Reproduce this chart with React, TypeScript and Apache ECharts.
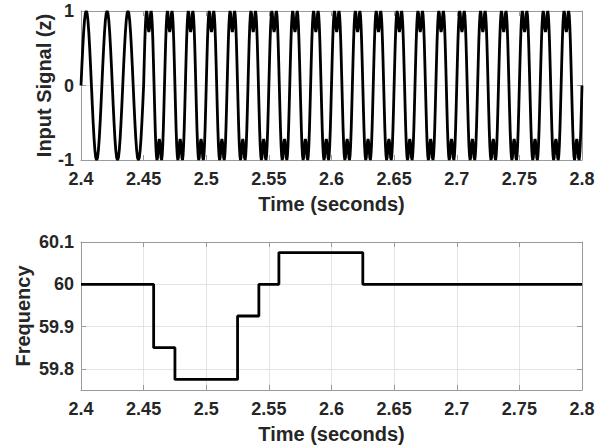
import React, { useEffect, useRef } from "react";
import * as echarts from "echarts";

// ---- data ----
const SIGNAL_FREQ_HZ = 60;
// one half-cycle of the clean sine (samples every 15 degrees)
const SINE_HALF = [0, 0.26, 0.5, 0.71, 0.87, 0.97, 1, 0.97, 0.87, 0.71, 0.5, 0.26];
// one half-cycle of the distorted wave (samples every 10 degrees), "M" shaped crest
const DISTORTED_HALF = [0, 0.3, 0.58, 0.8, 0.94, 1.0, 0.97, 0.86, 0.76, 0.72, 0.76, 0.86, 0.97, 1.0, 0.94, 0.8, 0.58, 0.3];
const SEGMENT_STARTS = [2.4, 2.45];
const SEGMENT_CYCLES = [3, 21];
const SEGMENT_SHAPES = [SINE_HALF, DISTORTED_HALF];
const SIGNAL_END = 2.8;

const FREQ_TIMES = [2.4, 2.458, 2.475, 2.525, 2.542, 2.558, 2.625, 2.8];
const FREQ_VALUES = [60, 59.85, 59.775, 59.925, 60.0, 60.075, 60.0, 60.0];

const X_MIN = 2.4;
const X_MAX = 2.8;
const X_INTERVAL = 0.05;
const TOP_Y_TICKS = [-1, 0, 1];
const FREQ_Y_TICKS = [59.8, 59.9, 60, 60.1];
const FREQ_Y_MIN = 59.75;
const FREQ_Y_MAX = 60.1;

function buildSignal(): number[][] {
  const pts: number[][] = [];
  const period = 1 / SIGNAL_FREQ_HZ;
  SEGMENT_STARTS.forEach((start, s) => {
    const half = SEGMENT_SHAPES[s];
    const cycle = half.concat(half.map((v) => -v));
    const n = cycle.length;
    for (let c = 0; c < SEGMENT_CYCLES[s]; c++) {
      for (let k = 0; k < n; k++) {
        pts.push([start + (c + k / n) * period, cycle[k]]);
      }
    }
  });
  pts.push([SIGNAL_END, 0]);
  return pts;
}

const FONT = "Liberation Sans, Arial, sans-serif";
const TXT = "#262626";
const BORDER = "#9a9a9a";
const GRIDC = "#e3e3e3";

export default function App() {
  const ref = useRef<HTMLDivElement>(null);
  useEffect(() => {
    document.body.style.margin = "0";
    if (!ref.current) return;
    const chart = echarts.init(ref.current, undefined, { renderer: "svg" });
    const fmt = (v: number) => String(+Number(v).toFixed(3));
    const labelStyle = { color: TXT, fontFamily: FONT, fontWeight: "bold" as const, fontSize: 18 };
    const nameStyle = { color: TXT, fontFamily: FONT, fontWeight: "bold" as const, fontSize: 20 };
    const line = { show: true, lineStyle: { color: BORDER, width: 1 } };
    const tick = { show: true, inside: true, length: 5, lineStyle: { color: BORDER, width: 1 } };

    const xBase = (gridIndex: number, position: "bottom" | "top", main: boolean, grid: boolean) => ({
      type: "value",
      gridIndex,
      position,
      min: X_MIN,
      max: X_MAX,
      interval: X_INTERVAL,
      axisLine: { ...line, onZero: false },
      axisTick: tick,
      axisLabel: main
        ? { ...labelStyle, margin: 10, formatter: fmt, showMinLabel: true, showMaxLabel: true }
        : { show: false },
      splitLine: { show: grid, lineStyle: { color: GRIDC, width: 1 } },
      name: main ? "Time (seconds)" : "",
      nameLocation: "middle",
      nameGap: 34,
      nameTextStyle: nameStyle,
    });

    const option: any = {
      animation: false,
      backgroundColor: "#ffffff",
      grid: [
        { left: 81, right: 19, top: 11, height: 149, containLabel: false },
        { left: 81, right: 19, top: 242, height: 148, containLabel: false },
      ],
      xAxis: [
        xBase(0, "bottom", true, false),
        xBase(0, "top", false, false),
        xBase(1, "bottom", true, true),
        xBase(1, "top", false, false),
      ],
      yAxis: [
        {
          type: "value",
          gridIndex: 0,
          position: "left",
          min: -1,
          max: 1,
          interval: 1,
          axisLine: { ...line, onZero: false },
          axisTick: { ...tick, customValues: TOP_Y_TICKS },
          axisLabel: { ...labelStyle, margin: 7, formatter: fmt, customValues: TOP_Y_TICKS },
          splitLine: { show: true, lineStyle: { color: GRIDC, width: 1 } },
          name: "Input Signal (z)",
          nameLocation: "middle",
          nameGap: 27,
          nameMoveOverlap: false,
          nameTextStyle: nameStyle,
        },
        {
          type: "value",
          gridIndex: 0,
          position: "right",
          min: -1,
          max: 1,
          interval: 1,
          axisLine: { ...line, onZero: false },
          axisTick: tick,
          axisLabel: { show: false },
          splitLine: { show: false },
        },
        {
          type: "value",
          gridIndex: 1,
          position: "left",
          min: FREQ_Y_MIN,
          max: FREQ_Y_MAX,
          axisLine: { ...line, onZero: false },
          axisTick: { ...tick, customValues: FREQ_Y_TICKS },
          axisLabel: { ...labelStyle, margin: 7, formatter: fmt, customValues: FREQ_Y_TICKS },
          splitLine: { show: true, lineStyle: { color: GRIDC, width: 1 } },
          name: "Frequency",
          nameLocation: "middle",
          nameGap: 48,
          nameMoveOverlap: false,
          nameTextStyle: nameStyle,
        },
        {
          type: "value",
          gridIndex: 1,
          position: "right",
          min: FREQ_Y_MIN,
          max: FREQ_Y_MAX,
          axisLine: { ...line, onZero: false },
          axisTick: { ...tick, customValues: FREQ_Y_TICKS },
          axisLabel: { show: false, customValues: FREQ_Y_TICKS },
          splitLine: { show: false },
        },
      ],
      series: [
        {
          type: "line",
          xAxisIndex: 0,
          yAxisIndex: 0,
          data: buildSignal(),
          showSymbol: false,
          symbol: "none",
          lineStyle: { color: "#000", width: 2.8 },
          clip: true,
          z: 5,
        },
        {
          type: "line",
          xAxisIndex: 2,
          yAxisIndex: 2,
          data: FREQ_TIMES.map((t, i) => [t, FREQ_VALUES[i]]),
          step: "end",
          showSymbol: false,
          symbol: "none",
          lineStyle: { color: "#000", width: 2.8 },
          z: 5,
        },
      ],
    };
    chart.setOption(option);
    return () => chart.dispose();
  }, []);
  return <div ref={ref} style={{ width: 601, height: 447 }} />;
}
